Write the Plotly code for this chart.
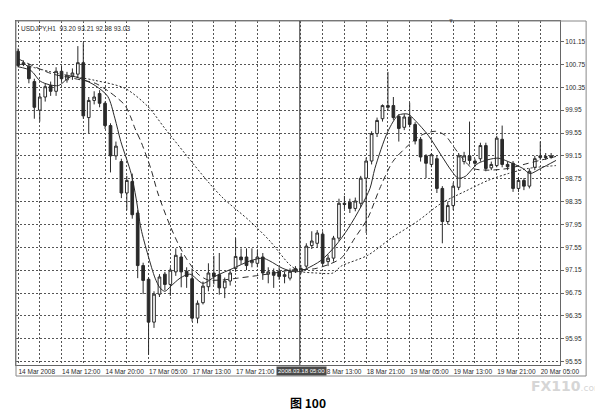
import plotly.graph_objects as go

# USDJPY H1 candles (bar index = position on chart)
open_ = [100.98, 100.75, 100.72, 100.45, 99.95, 100.18, 100.38, 100.28, 100.63, 100.48,
         100.55, 100.58, 100.78, 99.82, 100.12, 100.24, 100.07, 99.68, 99.15, 99.05,
         98.50, 98.70, 98.15, 97.23, 96.99, 96.24, 96.73, 97.08, 96.90, 97.12,
         97.38, 97.13, 97.00, 96.31, 96.58, 96.86, 97.10, 97.07, 96.84, 96.96,
         97.18, 97.38, 97.38, 97.28, 97.27, 97.38, 97.08, 97.12, 97.13, 97.04,
         97.01, 97.14, 97.12, 97.22, 97.58, 97.62, 97.78, 97.30, 97.36, 97.71,
         98.32, 98.34, 98.23, 98.32, 98.76, 99.06, 99.54, 99.80, 100.03, 100.03,
         99.84, 99.65, 99.83, 99.70, 99.44, 99.15, 99.00, 99.10, 98.58, 98.00,
         98.28, 98.60, 99.05, 99.15, 99.06, 99.10, 99.33, 98.94, 98.98, 99.44,
         99.00, 99.02, 98.58, 98.72, 98.62, 98.95, 99.12, 99.14, 99.12]
high = [101.03, 100.82, 100.75, 100.50, 100.24, 100.42, 100.45, 100.70, 100.72, 100.62,
        100.68, 101.07, 101.13, 100.18, 100.28, 100.30, 100.10, 99.72, 99.40, 99.10,
        98.80, 98.84, 98.20, 97.28, 97.02, 96.78, 97.08, 97.12, 97.20, 97.53,
        97.45, 97.20, 97.18, 96.62, 96.95, 97.27, 97.40, 97.45, 97.02, 97.15,
        97.71, 97.53, 97.53, 97.53, 97.50, 97.45, 97.20, 97.18, 97.20, 97.12,
        97.18, 97.22, 97.24, 97.62, 97.83, 97.85, 97.83, 97.42, 97.75, 98.40,
        98.45, 98.40, 98.42, 98.80, 99.12, 99.58, 99.82, 100.05, 100.62, 100.18,
        99.88, 99.88, 100.08, 99.74, 99.48, 99.18, 99.20, 99.15, 98.62, 98.35,
        98.68, 99.20, 99.22, 99.75, 99.10, 99.38, 99.38, 99.05, 99.50, 99.68,
        99.05, 99.06, 98.78, 98.76, 98.93, 99.15, 99.40, 99.20, 99.20]
low = [100.70, 100.72, 100.42, 99.80, 99.75, 100.10, 100.20, 100.20, 100.45, 100.43,
       100.48, 100.52, 99.80, 99.55, 100.05, 100.00, 99.62, 98.86, 99.08, 98.41,
       98.20, 98.05, 97.01, 96.73, 95.67, 96.14, 96.68, 96.80, 96.70, 97.05,
       96.85, 96.84, 96.25, 96.22, 96.55, 96.78, 96.90, 96.72, 96.66, 96.88,
       97.12, 97.25, 97.15, 97.20, 97.20, 96.98, 96.92, 96.84, 96.98, 96.92,
       96.97, 97.10, 97.08, 97.18, 97.52, 97.55, 97.22, 97.22, 97.30, 97.66,
       98.22, 98.15, 98.18, 98.25, 97.80, 99.00, 99.48, 99.75, 99.95, 99.78,
       99.40, 99.60, 99.65, 99.35, 99.05, 98.76, 98.95, 98.50, 97.62, 97.95,
       98.20, 98.55, 99.00, 99.00, 98.96, 99.05, 98.88, 98.90, 98.95, 98.95,
       98.90, 98.52, 98.52, 98.55, 98.58, 98.90, 99.08, 99.08, 99.10]
close = [100.73, 100.78, 100.50, 100.00, 100.18, 100.36, 100.28, 100.63, 100.50, 100.56,
         100.60, 100.78, 99.85, 100.12, 100.18, 100.07, 99.68, 99.15, 99.32, 98.50,
         98.72, 98.12, 97.23, 96.97, 96.24, 96.73, 97.03, 96.90, 97.15, 97.41,
         97.12, 97.04, 96.31, 96.57, 96.87, 97.10, 97.04, 96.84, 96.96, 97.10,
         97.39, 97.33, 97.23, 97.32, 97.38, 97.10, 97.12, 97.06, 97.04, 97.07,
         97.13, 97.18, 97.18, 97.57, 97.66, 97.80, 97.27, 97.36, 97.71, 98.32,
         98.30, 98.23, 98.36, 98.76, 99.06, 99.54, 99.77, 100.03, 100.00, 99.82,
         99.63, 99.83, 99.70, 99.41, 99.13, 99.02, 99.17, 98.58, 98.00, 98.28,
         98.62, 99.15, 99.15, 99.07, 99.02, 99.33, 98.93, 99.00, 99.46, 99.00,
         98.96, 98.58, 98.72, 98.62, 98.88, 99.10, 99.15, 99.12, 99.15]
bars = list(range(len(open_)))

# moving averages, sampled along the curves (bar index, price)
fast_x = [0, 2.4, 4.2, 7.4, 9.7, 11.6, 14.2, 16.5, 17.8, 18.9, 20.8, 21.7, 22.6, 23.9, 25.2,
          26.1, 27.0, 28.1, 29.8, 31.6, 34.0, 36.4, 39.5, 42.6, 45.0, 46.3, 48.7, 51.1, 52.9,
          55.7, 58.3, 60.7, 63.1, 64.7, 65.6, 68.0, 69.9, 71.7, 73.0, 75.4, 77.8, 79.6, 80.9,
          82.2, 84.6, 88.2, 90.1, 92.8, 94.1, 96.1, 98.9]
fast_y = [100.71, 100.64, 100.45, 100.38, 100.54, 100.50, 100.38, 100.19, 99.81, 99.40, 98.84,
          98.41, 97.88, 97.41, 97.01, 96.84, 96.78, 96.87, 97.01, 97.08, 96.92, 97.05, 97.18,
          97.31, 97.36, 97.31, 97.18, 97.12, 97.17, 97.32, 97.57, 97.88, 98.27, 98.58, 98.93,
          99.58, 99.86, 99.88, 99.77, 99.51, 99.16, 98.90, 98.76, 98.79, 99.02, 99.11, 99.05,
          98.93, 98.84, 98.93, 99.07]
mid_x = [0, 6.1, 10.5, 14.2, 16.5, 18.4, 19.7, 20.8, 21.5, 22.6, 24.4, 25.7, 27.6, 29.4, 30.9,
         33.1, 34.9, 37.7, 40.4, 43.6, 47.2, 50.0, 54.8, 59.4, 61.9, 64.3, 66.5, 68.9, 71.7,
         74.1, 76.7, 78.5, 80.3, 82.2, 83.6, 86.4, 90.1, 93.8, 98.9]
mid_y = [100.85, 100.59, 100.50, 100.42, 100.29, 100.15, 100.03, 99.81, 99.63, 99.40, 98.93,
         98.50, 98.01, 97.62, 97.36, 97.08, 96.98, 96.98, 97.01, 97.05, 97.10, 97.15, 97.18,
         97.36, 97.71, 98.06, 98.58, 99.05, 99.33, 99.51, 99.58, 99.51, 99.28, 99.05, 98.93,
         98.90, 98.93, 99.02, 99.14]
slow_x = [0, 7.4, 14.2, 19.7, 23.9, 27.0, 30.7, 34.9, 37.7, 42.6, 46.3, 50.0, 51.8, 54.8,
          57.9, 59.4, 64.3, 68.6, 73.5, 77.8, 82.2, 86.4, 90.1, 93.8, 98.9]
slow_y = [100.77, 100.59, 100.47, 100.33, 100.01, 99.63, 99.19, 98.70, 98.41, 98.01, 97.66,
          97.24, 97.13, 97.10, 97.10, 97.22, 97.41, 97.71, 98.01, 98.32, 98.53, 98.72, 98.84,
          98.93, 98.98]

# the 18 Mar 05:00 label sits under the crosshair date box in the screenshot
tick_bars = [0, 8, 16, 24, 32, 40, 48, 56, 64, 72, 80, 88, 96]
tick_labels = ["14 Mar 2008", "14 Mar 12:00", "14 Mar 20:00", "17 Mar 05:00", "17 Mar 13:00",
               "17 Mar 21:00", "", "18 Mar 13:00", "18 Mar 21:00", "19 Mar 05:00",
               "19 Mar 13:00", "19 Mar 21:00", "20 Mar 05:00"]
price_ticks = [95.55, 95.95, 96.35, 96.75, 97.15, 97.55, 97.95, 98.35, 98.75, 99.15,
               99.55, 99.95, 100.35, 100.75, 101.15]
crosshair_bar = 51.8
crosshair_label = "2008.03.18 05:00"
header = "USDJPY,H1  93.20 93.21 92.98 93.03"

ink = "#2a2a2a"
fnt = "Liberation Sans"

fig = go.Figure()
fig.add_trace(go.Candlestick(
    x=bars, open=open_, high=high, low=low, close=close,
    increasing=dict(line=dict(color=ink, width=1), fillcolor="white"),
    decreasing=dict(line=dict(color=ink, width=1), fillcolor=ink),
    whiskerwidth=0, showlegend=False, hoverinfo="skip"))
for xs, ys, dash in [(fast_x, fast_y, "solid"), (mid_x, mid_y, "6px,4px"), (slow_x, slow_y, "2px,2px")]:
    fig.add_trace(go.Scatter(x=xs, y=ys, mode="lines", showlegend=False, hoverinfo="skip",
                             line=dict(color=ink, width=1, dash=dash, shape="spline", smoothing=0.8)))

fig.update_layout(
    width=603, height=412,
    margin=dict(l=8, r=51, t=13, b=55),
    paper_bgcolor="white", plot_bgcolor="white",
    font=dict(family=fnt, size=6.5, color=ink),
    xaxis=dict(range=[-0.37, 99.63], rangeslider=dict(visible=False),
               tickvals=tick_bars, ticktext=tick_labels, ticklabelposition="outside right",
               tickangle=0, ticks="", showgrid=False, zeroline=False,
               showline=True, linecolor="#666", mirror=True,
               minor=dict(dtick=4, tick0=0, showgrid=True, gridcolor="#555",
                          griddash="2px,2px", gridwidth=1)),
    yaxis=dict(range=[95.49, 101.51], side="right", tickvals=price_ticks,
               tickformat=".2f", ticks="outside", ticklen=3, tickcolor="#666",
               showgrid=True, gridcolor="#555", griddash="2px,2px", gridwidth=1,
               zeroline=False, showline=True, linecolor="#666", mirror=True),
    shapes=[
        dict(type="rect", xref="paper", yref="paper", x0=0, x1=1.048, y0=-0.032, y1=1,
             line=dict(color="#888", width=1)),
        dict(type="line", xref="x", yref="paper", x0=crosshair_bar, x1=crosshair_bar,
             y0=0, y1=1, line=dict(color="#333", width=1)),
    ],
    annotations=[
        dict(text=header, xref="paper", yref="paper", x=0.006, y=0.995,
             xanchor="left", yanchor="top", showarrow=False, font=dict(size=6.5, color=ink)),
        dict(text=crosshair_label, xref="x", yref="paper", x=crosshair_bar + 0.25, y=-0.004,
             xanchor="center", yanchor="top", showarrow=False, bgcolor="#4a4a4a",
             borderpad=1, font=dict(size=6, color="white")),
        dict(text="▼", xref="x", yref="paper", x=79.6, y=1.0, yanchor="middle",
             showarrow=False, font=dict(size=6, color="#555")),
        dict(text="<b>FX110</b><span style='font-size:9px'>.com</span>", xref="paper",
             yref="paper", x=1.083, y=-0.062, xanchor="right", yanchor="middle",
             showarrow=False, font=dict(size=14, color="#d6d6d6", family="DejaVu Sans")),
        dict(text="<b>图 100</b>", xref="paper", yref="paper", x=0.537, y=-0.11,
             xanchor="center", yanchor="middle", showarrow=False,
             font=dict(size=12, color="black", family="Noto Sans CJK SC")),
    ],
)

fig.write_html("out.html")
